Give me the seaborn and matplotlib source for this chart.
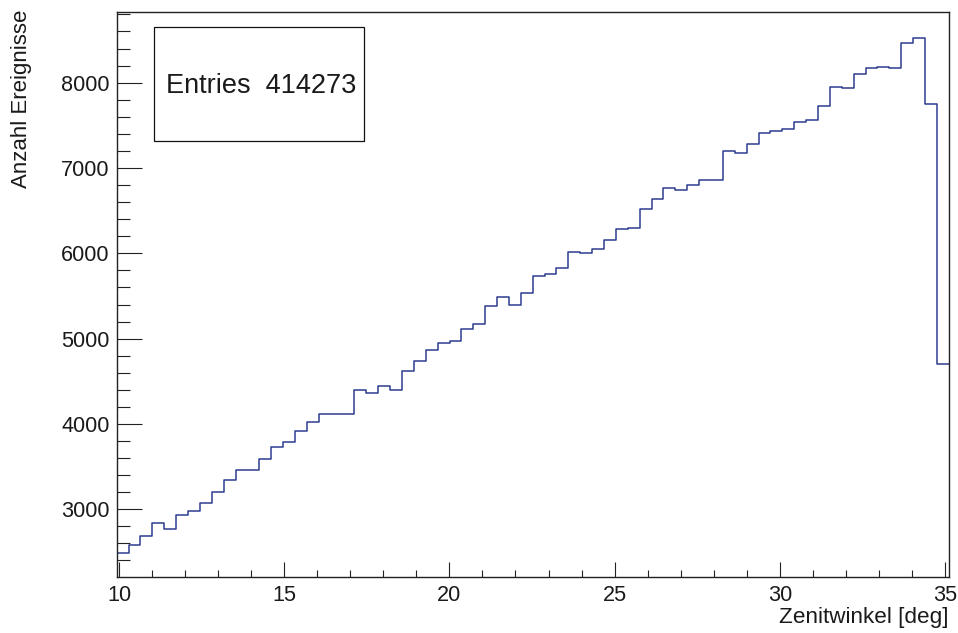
import matplotlib
matplotlib.use("Agg")
import matplotlib.pyplot as plt
from matplotlib.patches import Rectangle
from matplotlib.ticker import MultipleLocator
import numpy as np
import pandas as pd
import seaborn as sns

# histogram range and binning (ROOT style, 70 bins)
x_min = 9.93
x_max = 35.112
n_bins = 70

counts = [
    2490, 2585, 2691, 2843, 2773, 2937, 2980, 3074, 3203, 3344,
    3457, 3457, 3590, 3734, 3783, 3914, 4027, 4121, 4117, 4121,
    4395, 4367, 4449, 4395, 4625, 4735, 4864, 4953, 4969, 5113,
    5176, 5387, 5492, 5398, 5539, 5734, 5758, 5825, 6019, 6004,
    6051, 6160, 6285, 6293, 6523, 6637, 6769, 6742, 6797, 6863,
    6856, 7200, 7176, 7282, 7407, 7430, 7463, 7539, 7566, 7723,
    7946, 7938, 8102, 8169, 8188, 8172, 8465, 8520, 7754, 4700,
]
entries = 414273

x_title = "Zenitwinkel [deg]"
y_title = "Anzahl Ereignisse"

edges = np.linspace(x_min, x_max, n_bins + 1)
df = pd.DataFrame({"zenith": (edges[:-1] + edges[1:]) / 2, "count": counts})

sns.set_style("white")
plt.rcParams["font.family"] = ["Liberation Sans", "DejaVu Sans"]

W, H = 958, 633
fig = plt.figure(figsize=(W / 100, H / 100), dpi=100)
ax = fig.add_axes([116.7 / W, 1 - 576.7 / H, (948.7 - 116.7) / W, (576.7 - 11.7) / H])

sns.histplot(data=df, x="zenith", weights="count", bins=n_bins, binrange=(x_min, x_max),
             element="step", fill=False, color="#2e3c8f", linewidth=1.1, ax=ax)

ax.set_xlim(x_min, x_max)
ax.set_ylim(2210, 8832)
ax.set_xlabel("")
ax.set_ylabel("")

ax.xaxis.set_major_locator(MultipleLocator(5))
ax.xaxis.set_minor_locator(MultipleLocator(1))
ax.yaxis.set_major_locator(MultipleLocator(1000))
ax.yaxis.set_minor_locator(MultipleLocator(200))
ax.tick_params(axis="both", which="both", direction="in", color="#222222",
               bottom=True, left=True, top=False, right=False,
               width=0.8, labelsize=15.6, labelcolor="#1a1a1a")
ax.tick_params(axis="x", which="major", length=11, pad=6)
ax.tick_params(axis="x", which="minor", length=5)
ax.tick_params(axis="y", which="major", length=18, pad=5)
ax.tick_params(axis="y", which="minor", length=9)
for s in ax.spines.values():
    s.set_visible(True)
    s.set_color("#222222")
    s.set_linewidth(1.0)

# stats box
fig.patches.append(Rectangle((154.3 / W, 1 - 140.7 / H), (364 - 154.3) / W, (140.7 - 27) / H,
                             transform=fig.transFigure, fill=False, edgecolor="#111111",
                             linewidth=0.9))
fig.text(165.7 / W, 1 - 86 / H, f"Entries  {entries}", fontsize=19.5, va="center",
         ha="left", color="#1a1a1a")

fig.text(948.7 / W, 1 - 617 / H, x_title, fontsize=16.2, ha="right", va="center",
         color="#1a1a1a")
fig.text(22 / W, 1 - 10 / H, y_title, fontsize=16.0, ha="center", va="top",
         rotation=90, color="#1a1a1a")

fig.savefig("out.png", dpi=100)
